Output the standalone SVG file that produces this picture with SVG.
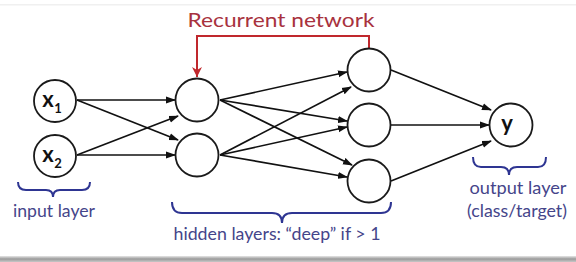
<svg xmlns="http://www.w3.org/2000/svg" width="576" height="262" viewBox="0 0 576 262">
<defs>
<marker id="ah" markerWidth="10" markerHeight="8" refX="9" refY="4" orient="auto" markerUnits="userSpaceOnUse">
<path d="M0,0.5 L10,4 L0,7.5 Z" fill="#111"/>
</marker>
<marker id="ahr" markerWidth="10" markerHeight="10" refX="5" refY="10" orient="0" markerUnits="userSpaceOnUse">
<path d="M0,0 L5,10 L10,0 L5,3 Z" fill="#c0282d"/>
</marker>
<linearGradient id="bar" x1="0" y1="0" x2="0" y2="1">
<stop offset="0" stop-color="#e6e6e6"/>
<stop offset="0.5" stop-color="#9a9a9a"/>
<stop offset="1" stop-color="#c8c8c8"/>
</linearGradient>
</defs>
<style>
.node{fill:#fff;stroke:#1a1a1a;stroke-width:1.8}
.edge{stroke:#111;stroke-width:1.7;fill:none;marker-end:url(#ah)}
.lbl{font-family:Lato,"Open Sans",sans-serif;font-weight:bold;fill:#111;text-anchor:middle}
.blue{font-family:Lato,"Open Sans",sans-serif;font-size:17px;fill:#45458a;text-anchor:middle}
.brace{fill:none;stroke:#2e3592;stroke-width:2}
</style>
<rect width="576" height="262" fill="#fff"/>
<rect x="0" y="4" width="576" height="1.5" fill="#f0f0f0"/>
<rect x="0" y="256" width="576" height="6" fill="url(#bar)"/>

<g id="recurrent">
<path d="M369,48 V36 H197 V77" fill="none" stroke="#c0282d" stroke-width="2" marker-end="url(#ahr)"/>
<text x="281" y="27" font-family="Lato,'Open Sans',sans-serif" font-size="20" fill="#a8323e" text-anchor="middle" textLength="187" lengthAdjust="spacingAndGlyphs">Recurrent network</text>
</g>

<g id="connectors">
<path class="edge" d="M77,100 L175,100"/>
<path class="edge" d="M77,100 L178,140"/>
<path class="edge" d="M77,155 L178,116"/>
<path class="edge" d="M77,155 L175,155"/>
<path class="edge" d="M220,100 L347,72"/>
<path class="edge" d="M220,100 L347,121"/>
<path class="edge" d="M220,100 L352,165"/>
<path class="edge" d="M220,155 L351,87"/>
<path class="edge" d="M220,155 L347,127"/>
<path class="edge" d="M220,155 L347,177"/>
<path class="edge" d="M391,70 L491,110"/>
<path class="edge" d="M391,125 L489,125"/>
<path class="edge" d="M391,181 L491,141"/>
</g>

<g id="x1"><circle class="node" cx="55" cy="101" r="21"/>
<text class="lbl" x="48" y="107" font-size="22">x</text><text class="lbl" x="58" y="113" font-size="13">1</text></g>
<g id="x2"><circle class="node" cx="55" cy="156" r="21"/>
<text class="lbl" x="48" y="162" font-size="22">x</text><text class="lbl" x="58" y="168" font-size="13">2</text></g>
<g id="h1a"><circle class="node" cx="197" cy="100" r="21.5"/></g>
<g id="h1b"><circle class="node" cx="197" cy="155" r="21.5"/></g>
<g id="h2a"><circle class="node" cx="369" cy="70" r="21.5"/></g>
<g id="h2b"><circle class="node" cx="369" cy="125" r="21.5"/></g>
<g id="h2c"><circle class="node" cx="369" cy="181" r="21.5"/></g>
<g id="y"><circle class="node" cx="511" cy="125" r="21.5"/>
<text class="lbl" x="507" y="131" font-size="22">y</text></g>

<g id="input-label">
<path class="brace" d="M18,182 Q18,190 26,190 H46 Q53,190 53,197 Q53,190 60,190 H82 Q90,190 90,182"/>
<text class="blue" x="54" y="217" textLength="82" lengthAdjust="spacingAndGlyphs">input layer</text>
</g>
<g id="hidden-label">
<path class="brace" d="M172,202 Q172,213 182,213 H272 Q282,213 282,223 Q282,213 292,213 H381 Q391,213 391,202"/>
<text class="blue" x="277" y="240" textLength="207" lengthAdjust="spacingAndGlyphs">hidden layers: “deep” if &gt; 1</text>
</g>
<g id="output-label">
<path class="brace" d="M473,157 Q473,167 481,167 H501 Q509,167 509,175 Q509,167 517,167 H538 Q546,167 546,157"/>
<text class="blue" x="518" y="194" textLength="97" lengthAdjust="spacingAndGlyphs">output layer</text>
<text class="blue" x="517" y="217" textLength="100" lengthAdjust="spacingAndGlyphs">(class/target)</text>
</g>
</svg>
